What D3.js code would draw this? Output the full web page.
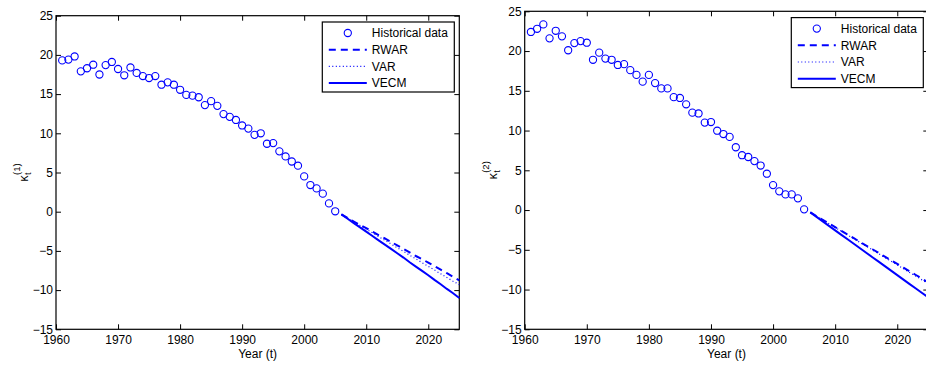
<!DOCTYPE html>
<html><head><meta charset="utf-8">
<script src="https://cdn.jsdelivr.net/npm/d3@7"></script>
<style>
body{margin:0;background:#fff}
svg{display:block}
text{font-family:"Liberation Sans",Arial,Helvetica,sans-serif;fill:#000}
</style>
</head><body>
<svg id="chart" width="926" height="365"></svg>
<script>
// ---------- data ----------
const histYears = [1961,1962,1963,1964,1965,1966,1967,1968,1969,1970,
  1971,1972,1973,1974,1975,1976,1977,1978,1979,1980,
  1981,1982,1983,1984,1985,1986,1987,1988,1989,1990,
  1991,1992,1993,1994,1995,1996,1997,1998,1999,2000,
  2001,2002,2003,2004,2005];
const kappa1 = [19.3,19.4,19.8,17.9,18.3,18.75,17.5,18.7,19.1,18.2,
  17.4,18.4,17.7,17.3,17.05,17.3,16.2,16.5,16.2,15.55,
  14.9,14.8,14.6,13.6,14.1,13.5,12.45,12.1,11.7,11.0,
  10.6,9.8,10.0,8.67,8.75,7.7,7.05,6.4,5.87,4.5,
  3.4,2.97,2.3,1.06,0.05];
const kappa2 = [22.4,22.8,23.35,21.6,22.55,21.85,20.1,21.0,21.25,21.05,
  18.9,19.8,19.05,18.9,18.25,18.35,17.6,17.0,16.15,17.0,
  15.97,15.3,15.3,14.2,14.1,13.3,12.25,12.15,11.0,11.07,
  9.98,9.56,9.2,7.9,6.9,6.67,6.16,5.6,4.57,3.14,
  2.35,1.97,1.97,1.47,0.09];
const fcYears = [2006,2007,2008,2009,2010,2011,2012,2013,2014,2015,
  2016,2017,2018,2019,2020,2021,2022,2023,2024,2025];
const rwar1 = [-0.35,-0.8,-1.25,-1.7,-2.1,-2.55,-3.0,-3.4,-3.85,-4.3,
  -4.75,-5.2,-5.65,-6.05,-6.5,-6.95,-7.4,-7.85,-8.3,-8.75];
const var1 = [-0.35,-0.82,-1.28,-1.75,-2.22,-2.7,-3.17,-3.64,-4.12,-4.6,
  -5.07,-5.54,-6.02,-6.5,-6.97,-7.44,-7.92,-8.4,-8.87,-9.3];
const vecm1 = [-0.35,-0.9,-1.45,-2.0,-2.55,-3.1,-3.65,-4.2,-4.75,-5.3,
  -5.85,-6.45,-7.0,-7.55,-8.1,-8.7,-9.25,-9.85,-10.4,-11.0];
const rwar2 = [-0.3,-0.76,-1.23,-1.69,-2.15,-2.62,-3.08,-3.54,-4.01,-4.47,
  -4.93,-5.39,-5.86,-6.32,-6.78,-7.25,-7.71,-8.17,-8.64,-9.1];
const var2 = [-0.3,-0.77,-1.24,-1.71,-2.18,-2.66,-3.13,-3.6,-4.07,-4.54,
  -5.01,-5.49,-5.96,-6.43,-6.9,-7.38,-7.85,-8.32,-8.79,-9.25];
const vecm2 = [-0.3,-0.86,-1.43,-1.99,-2.55,-3.12,-3.68,-4.24,-4.81,-5.37,
  -5.93,-6.49,-7.06,-7.62,-8.18,-8.75,-9.31,-9.87,-10.44,-11.0];
const xTicks = [1960,1970,1980,1990,2000,2010,2020];
const yTicks = [-15,-10,-5,0,5,10,15,20,25];
const xDomain = [1960,2025];
const yDomain = [-15,25];
const legendLabels = ["Historical data","RWAR","VAR","VECM"];
const yLabelSup = ["(1)","(2)"];
const xLabel = "Year (t)";

// ---------- layout ----------
const blue = "#0000ff";
const panels = [
  {left:56, right:459.3, top:15.7, bottom:329.3, hist:kappa1, rwar:rwar1, vr:var1, vecm:vecm1, sup:yLabelSup[0]},
  {left:524.7, right:928.3, top:11.3, bottom:329.3, hist:kappa2, rwar:rwar2, vr:var2, vecm:vecm2, sup:yLabelSup[1]}
];
const svg = d3.select("#chart");
const fmt = d => d < 0 ? "\u2212" + Math.abs(d) : String(d);
const TICK = 5;
const R = 3.6;

panels.forEach(p => {
  const x = d3.scaleLinear().domain(xDomain).range([p.left, p.right]);
  const y = d3.scaleLinear().domain(yDomain).range([p.bottom, p.top]);
  const g = svg.append("g");

  const styleAxis = sel => {
    sel.select(".domain").remove();
    sel.selectAll(".tick line").attr("stroke", "#000").attr("stroke-width", 1);
    sel.selectAll(".tick text").style("font-size", "12px").attr("fill", "#000");
  };
  g.append("g").attr("transform", `translate(0,${p.bottom})`)
    .call(d3.axisBottom(x).tickValues(xTicks).tickSizeInner(-TICK).tickSizeOuter(0).tickPadding(6).tickFormat(fmt))
    .call(styleAxis);
  g.append("g").attr("transform", `translate(0,${p.top})`)
    .call(d3.axisTop(x).tickValues(xTicks).tickSizeInner(-TICK).tickSizeOuter(0).tickFormat(""))
    .call(styleAxis);
  g.append("g").attr("transform", `translate(${p.left},0)`)
    .call(d3.axisLeft(y).tickValues(yTicks).tickSizeInner(-TICK).tickSizeOuter(0).tickPadding(3).tickFormat(fmt))
    .call(styleAxis);
  g.append("g").attr("transform", `translate(${p.right},0)`)
    .call(d3.axisRight(y).tickValues(yTicks).tickSizeInner(-TICK).tickSizeOuter(0).tickFormat(""))
    .call(styleAxis);
  g.append("rect").attr("x", p.left).attr("y", p.top)
    .attr("width", p.right - p.left).attr("height", p.bottom - p.top)
    .attr("fill", "none").attr("stroke", "#000").attr("stroke-width", 1.2);

  const line = d3.line().x((d, i) => x(fcYears[i])).y(d => y(d));
  g.append("path").datum(p.vecm).attr("d", line).attr("fill", "none")
    .attr("stroke", blue).attr("stroke-width", 2);
  g.append("path").datum(p.vr).attr("d", line).attr("fill", "none")
    .attr("stroke", blue).attr("stroke-width", 1.2).attr("stroke-dasharray", "1,2.5");
  g.append("path").datum(p.rwar).attr("d", line).attr("fill", "none")
    .attr("stroke", blue).attr("stroke-width", 2).attr("stroke-dasharray", "7,5");

  g.selectAll("circle.h").data(p.hist).enter().append("circle")
    .attr("class", "h")
    .attr("cx", (d, i) => x(histYears[i])).attr("cy", d => y(d)).attr("r", R)
    .attr("fill", "none").attr("stroke", blue).attr("stroke-width", 1.1);

  g.append("text").attr("x", (p.left + p.right) / 2).attr("y", 358)
    .attr("text-anchor", "middle").style("font-size", "12px").text(xLabel);

  const yl = g.append("g").attr("transform", `translate(${p.left - 28},${(p.top + p.bottom) / 2}) rotate(-90)`);
  yl.append("text").attr("x", -9).attr("y", 0).style("font-size", "12px").text("\u03ba");
  yl.append("text").attr("x", -2.5).attr("y", 3).style("font-size", "9px").text("t");
  yl.append("text").attr("x", -2.5).attr("y", -8).style("font-size", "9.5px").text(p.sup);

  const lw = 132, lh = 70;
  const lx = p.right - 5 - lw, ly = p.top + 6.3;
  const lg = g.append("g").attr("transform", `translate(${lx},${ly})`);
  lg.append("rect").attr("width", lw).attr("height", lh).attr("fill", "#fff")
    .attr("stroke", "#000").attr("stroke-width", 1.2);
  const rowY = i => 11 + i * 16.7;
  const styles = [null, {w:2, dash:"7,5"}, {w:1.2, dash:"1,2.5"}, {w:2, dash:null}];
  legendLabels.forEach((lab, i) => {
    const yy = rowY(i);
    if (i === 0) {
      lg.append("circle").attr("cx", 25.5).attr("cy", yy).attr("r", R)
        .attr("fill", "none").attr("stroke", blue).attr("stroke-width", 1.1);
    } else {
      const s = styles[i];
      const ln = lg.append("line").attr("x1", 6.5).attr("x2", 44.5).attr("y1", yy).attr("y2", yy)
        .attr("stroke", blue).attr("stroke-width", s.w);
      if (s.dash) ln.attr("stroke-dasharray", s.dash);
    }
    lg.append("text").attr("x", 49.5).attr("y", yy + 4.3).style("font-size", "12px").text(lab);
  });
});
</script>
</body></html>
